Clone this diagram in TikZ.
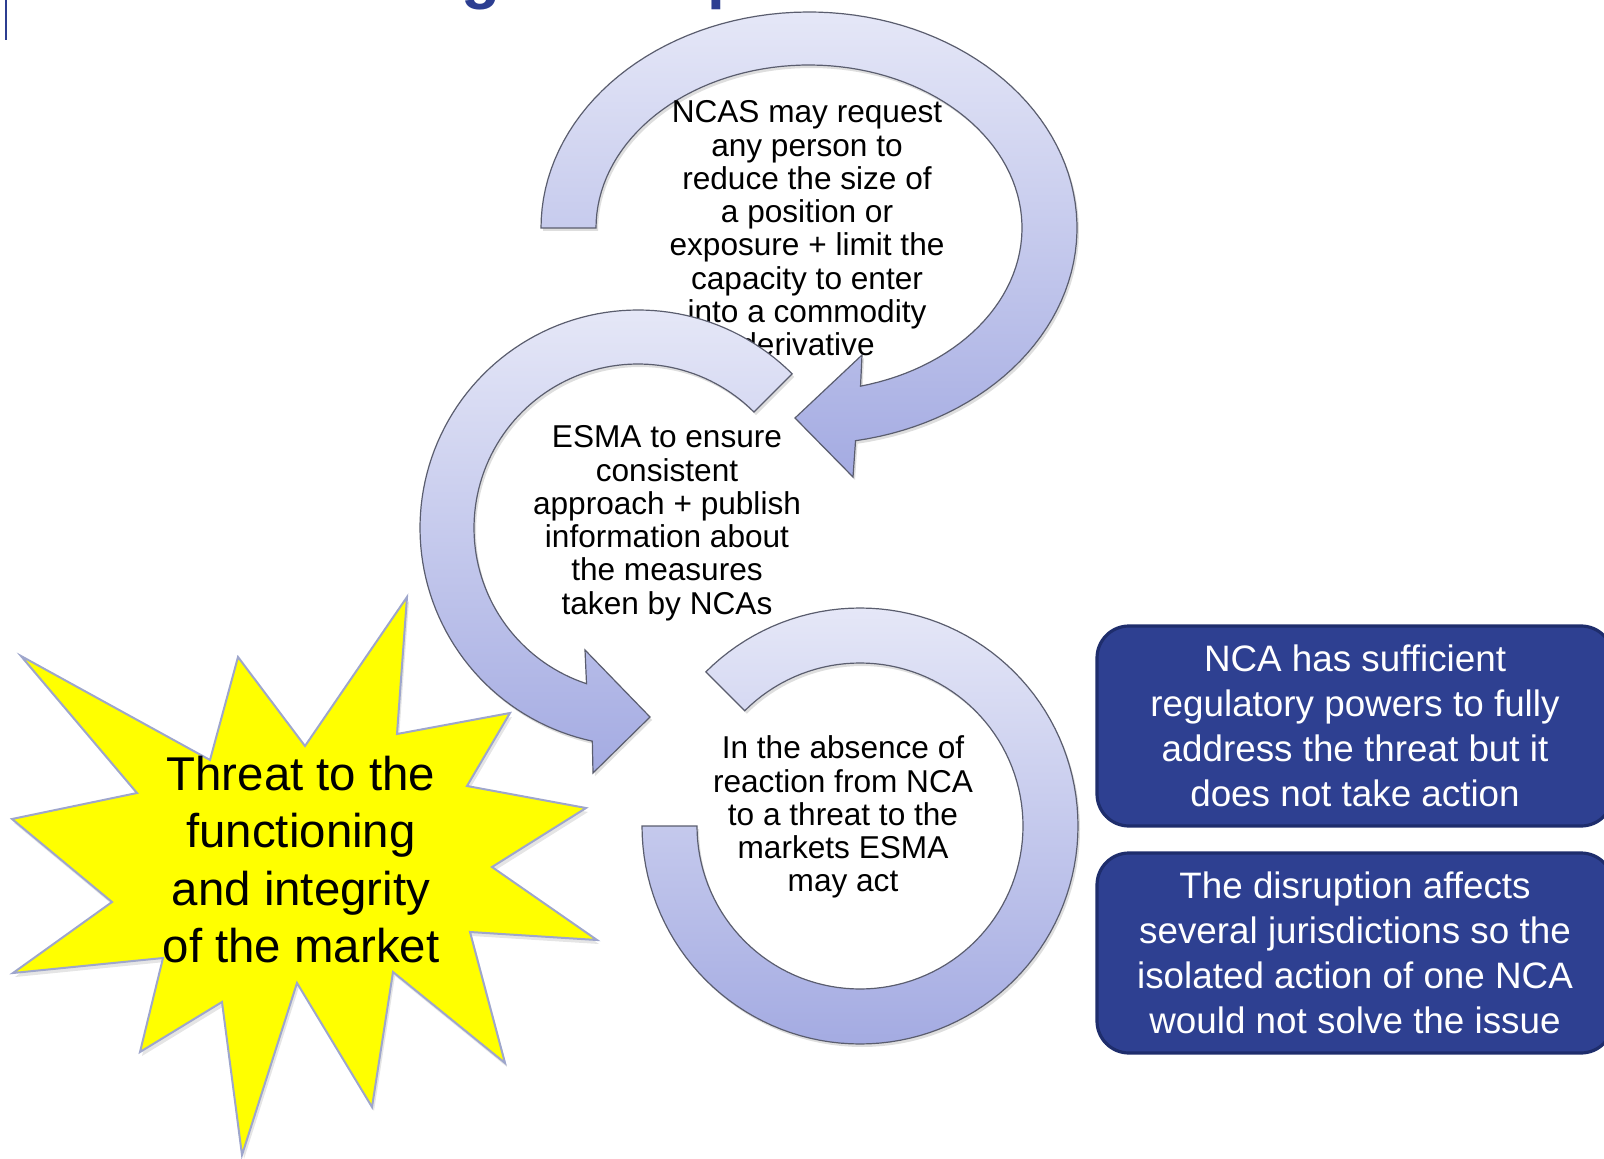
\documentclass[tikz,border=0pt]{standalone}
\usepackage{fontspec}
\setmainfont{Liberation Sans}
\definecolor{ringtop}{RGB}{229,231,247}
\definecolor{ringbot}{RGB}{164,171,226}
\definecolor{ringedge}{RGB}{90,93,110}
\definecolor{boxfill}{RGB}{46,64,145}
\definecolor{boxedge}{RGB}{30,45,108}
\definecolor{titleblue}{RGB}{44,62,145}
\definecolor{starfill}{RGB}{255,255,0}
\definecolor{staredge}{RGB}{158,166,204}

% outlines of the three circular arrows and the burst (pixel units, y downwards)
\def\ringonepath{plot[domain=180:440,samples=100,variable=\t] ({809+268*cos(\t)},{228+216*sin(\t)})
  -- (853,477) -- (795,418) -- (862,355)
  -- plot[domain=436:180,samples=100,variable=\t] ({809+213*cos(\t)},{228+163*sin(\t)}) -- cycle}
\def\ringtwopath{plot[domain=-45:-257.9,samples=100,variable=\t] ({638+218*cos(\t)},{528+218*sin(\t)})
  -- (593,773) -- (650,717) -- (585,650)
  -- plot[domain=-251.7:-45,samples=100,variable=\t] ({638+164*cos(\t)},{528+164*sin(\t)}) -- cycle}
\def\ringthreepath{plot[domain=225:540,samples=120,variable=\t] ({860+218*cos(\t)},{826+218*sin(\t)})
  -- plot[domain=540:225,samples=120,variable=\t] ({860+163*cos(\t)},{826+163*sin(\t)}) -- cycle}
\def\burstpath{(21,656) -- (210,760) -- (238,657) -- (305,746) -- (407,597) -- (397,734)
  -- (510,713) -- (467,786) -- (586,808) -- (492,867) -- (597,940) -- (470,932)
  -- (505,1063) -- (393,972) -- (372,1107) -- (297,983) -- (242,1155) -- (222,1002)
  -- (140,1052) -- (163,958) -- (13,973) -- (112,902) -- (12,819) -- (137,793) -- cycle}

\begin{document}
\begin{tikzpicture}[x=0.5pt,y=-0.5pt,
  ring/.style={top color=ringtop, bottom color=ringbot, draw=ringedge, line width=0.6pt},
  softshadow/.style={fill=black, opacity=0.13},
  ringtext/.style={anchor=north, inner sep=0pt, align=center, text=black,
    font=\fontsize{15.8}{16.65}\selectfont},
  burst/.style={fill=starfill, draw=staredge, line width=1pt, line join=miter},
  bursttext/.style={anchor=north, inner sep=0pt, align=center, text=black,
    font=\fontsize{23.7}{28.65}\selectfont},
  bluebox/.style={fill=boxfill, draw=boxedge, line width=1.6pt, rounded corners=16pt,
    minimum width=258pt, minimum height=100pt, inner sep=0pt, align=center, text=white,
    font=\fontsize{18.4}{22.6}\selectfont},
  titlebit/.style={anchor=base west, inner sep=0pt, text=titleblue,
    font=\fontsize{32}{38}\bfseries\selectfont}]

\useasboundingbox (0,0) rectangle (1604,1159);
\clip (0,0) rectangle (1604,1159);

% slide title remnants
\coordinate (rulestart) at (6,0);
\coordinate (ruleend) at (6,40);
\draw[titleblue, line width=1pt] (rulestart) -- (ruleend);
\node[titlebit] (titleg) at (461,-3) {g};
\node[titlebit] (titlep) at (707,-3) {p};

% first circular arrow
\begin{scope}[shift={(2,3)}]
  \fill[softshadow] \ringonepath;
\end{scope}
\path[ring] \ringonepath;
\node[ringtext] (ncas) at (807,99) {\strut NCAS may request\\ any person to\\ reduce the size of\\ a position or\\ exposure + limit the\\ capacity to enter\\ into a commodity\\ derivative};

% second circular arrow
\begin{scope}[shift={(2,3)}]
  \fill[softshadow] \ringtwopath;
\end{scope}
\path[ring] \ringtwopath;
\node[ringtext] (esma) at (667,424) {\strut ESMA to ensure\\ consistent\\ approach + publish\\ information about\\ the measures\\ taken by NCAs};

% third circular arrow
\begin{scope}[shift={(2,3)}]
  \fill[softshadow] \ringthreepath;
\end{scope}
\path[ring] \ringthreepath;
\node[ringtext] (absence) at (843,735) {\strut In the absence of\\ reaction from NCA\\ to a threat to the\\ markets ESMA\\ may act};

% burst
\begin{scope}[shift={(2,4)}]
  \fill[softshadow, opacity=0.10] \burstpath;
\end{scope}
\path[burst] \burstpath;
\node[bursttext] (threat) at (301,750) {\strut Threat to the\\ functioning\\ and integrity\\ of the market};

% conditions
\node[bluebox] (powers) at (1355,726) {NCA has sufficient\\ regulatory powers to fully\\ address the threat but it\\ does not take action};
\node[bluebox] (disruption) at (1355,953) {The disruption affects\\ several jurisdictions so the\\ isolated action of one NCA\\ would not solve the issue};

\end{tikzpicture}
\end{document}
